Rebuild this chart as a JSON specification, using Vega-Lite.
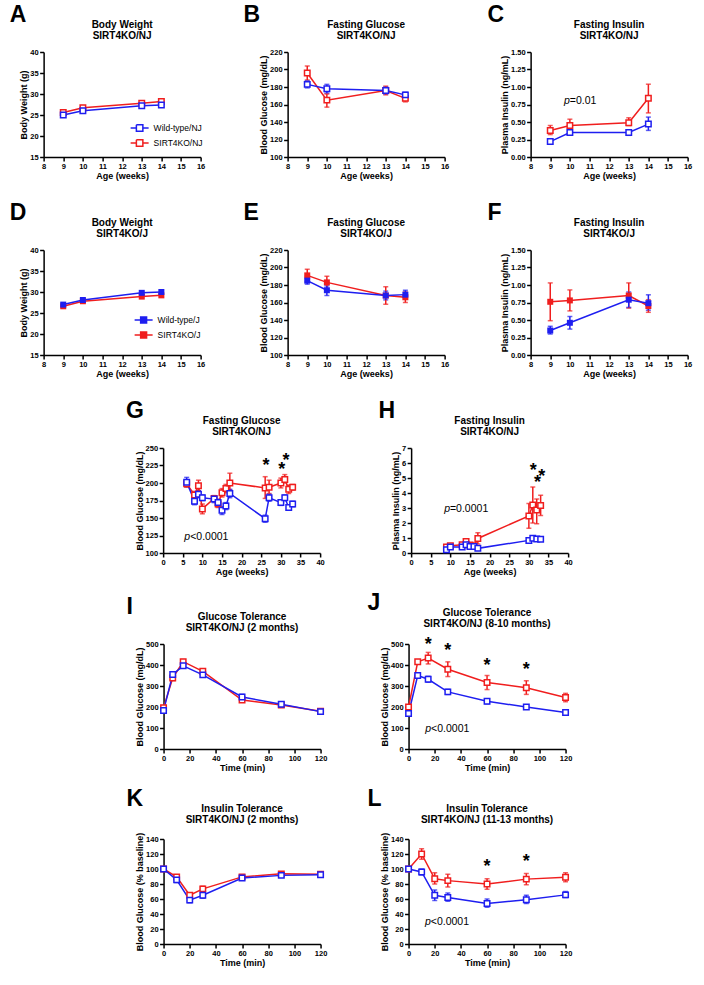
{
"$schema": "https://vega.github.io/schema/vega-lite/v6.json",
"padding": {"left": 9, "top": 4, "right": 5, "bottom": 5},
"config": {
  "font": "Liberation Sans",
  "view": {"stroke": null},
  "axis": {"labelFont": "Liberation Sans", "labelFontSize": 7.5, "labelFontWeight": "bold", "labelColor": "black", "titleFont": "Liberation Sans", "titleFontSize": 9, "titleFontWeight": "bold", "titleColor": "black", "domainColor": "black", "domainWidth": 1.5, "tickColor": "black", "tickWidth": 1.5, "tickSize": 4, "labelPadding": 1.5, "titlePadding": 1, "grid": false, "labelFlush": false, "labelOverlap": false},
  "title": {"font": "Liberation Sans", "fontSize": 10, "fontWeight": "bold", "color": "black", "lineHeight": 11, "offset": 7}
},
"datasets": {
  "A": [
    {"g":"KO","x":9,"y":25.6,"lo":25.3,"hi":25.9},{"g":"KO","x":10,"y":26.7,"lo":26.4,"hi":27.0},{"g":"KO","x":13,"y":27.8,"lo":27.5,"hi":28.1},{"g":"KO","x":14,"y":28.2,"lo":27.9,"hi":28.5},
    {"g":"WT","x":9,"y":25.0,"lo":24.7,"hi":25.3},{"g":"WT","x":10,"y":26.0,"lo":25.7,"hi":26.3},{"g":"WT","x":13,"y":27.2,"lo":26.9,"hi":27.5},{"g":"WT","x":14,"y":27.4,"lo":27.0,"hi":27.8}
  ],
  "B": [
    {"g":"KO","x":9,"y":196,"lo":188,"hi":204},{"g":"KO","x":10,"y":165,"lo":157,"hi":172},{"g":"KO","x":13,"y":176,"lo":171,"hi":181},{"g":"KO","x":14,"y":167,"lo":163,"hi":171},
    {"g":"WT","x":9,"y":183,"lo":179,"hi":187},{"g":"WT","x":10,"y":178,"lo":173,"hi":183},{"g":"WT","x":13,"y":176,"lo":172,"hi":180},{"g":"WT","x":14,"y":171,"lo":168,"hi":174}
  ],
  "C": [
    {"g":"KO","x":9,"y":0.38,"lo":0.32,"hi":0.45},{"g":"KO","x":10,"y":0.45,"lo":0.38,"hi":0.54},{"g":"KO","x":13,"y":0.49,"lo":0.45,"hi":0.56},{"g":"KO","x":14,"y":0.84,"lo":0.63,"hi":1.04},
    {"g":"WT","x":9,"y":0.22,"lo":0.19,"hi":0.26},{"g":"WT","x":10,"y":0.35,"lo":0.32,"hi":0.38},{"g":"WT","x":13,"y":0.35,"lo":0.31,"hi":0.38},{"g":"WT","x":14,"y":0.47,"lo":0.38,"hi":0.57}
  ],
  "D": [
    {"g":"KO","x":9,"y":26.6,"lo":26.3,"hi":26.9},{"g":"KO","x":10,"y":27.8,"lo":27.5,"hi":28.1},{"g":"KO","x":13,"y":28.9,"lo":28.6,"hi":29.2},{"g":"KO","x":14,"y":29.2,"lo":28.9,"hi":29.5},
    {"g":"WT","x":9,"y":27.0,"lo":26.6,"hi":27.4},{"g":"WT","x":10,"y":28.1,"lo":27.8,"hi":28.4},{"g":"WT","x":13,"y":29.8,"lo":29.5,"hi":30.1},{"g":"WT","x":14,"y":30.0,"lo":29.6,"hi":30.4}
  ],
  "E": [
    {"g":"KO","x":9,"y":191,"lo":184,"hi":198},{"g":"KO","x":10,"y":183,"lo":176,"hi":190},{"g":"KO","x":13,"y":168,"lo":158,"hi":178},{"g":"KO","x":14,"y":166,"lo":160,"hi":172},
    {"g":"WT","x":9,"y":185,"lo":181,"hi":190},{"g":"WT","x":10,"y":174,"lo":168,"hi":179},{"g":"WT","x":13,"y":168,"lo":163,"hi":173},{"g":"WT","x":14,"y":169,"lo":165,"hi":174}
  ],
  "F": [
    {"g":"KO","x":9,"y":0.76,"lo":0.49,"hi":1.03},{"g":"KO","x":10,"y":0.78,"lo":0.63,"hi":0.93},{"g":"KO","x":13,"y":0.85,"lo":0.67,"hi":1.03},{"g":"KO","x":14,"y":0.70,"lo":0.61,"hi":0.79},
    {"g":"WT","x":9,"y":0.35,"lo":0.30,"hi":0.41},{"g":"WT","x":10,"y":0.46,"lo":0.37,"hi":0.55},{"g":"WT","x":13,"y":0.79,"lo":0.68,"hi":0.90},{"g":"WT","x":14,"y":0.74,"lo":0.64,"hi":0.86}
  ],
  "G": [
    {"g":"KO","x":6,"y":199,"lo":194,"hi":204},{"g":"KO","x":8,"y":183,"lo":178,"hi":188},{"g":"KO","x":9,"y":196,"lo":189,"hi":204},{"g":"KO","x":10,"y":163,"lo":156,"hi":170},{"g":"KO","x":13,"y":178,"lo":174,"hi":182},{"g":"KO","x":14,"y":170,"lo":165,"hi":175},{"g":"KO","x":15,"y":186,"lo":180,"hi":192},{"g":"KO","x":16,"y":192,"lo":186,"hi":198},{"g":"KO","x":17,"y":200,"lo":190,"hi":214},{"g":"KO","x":26,"y":193,"lo":178,"hi":209},{"g":"KO","x":27,"y":194,"lo":185,"hi":204},{"g":"KO","x":30,"y":200,"lo":193,"hi":207},{"g":"KO","x":31,"y":205,"lo":200,"hi":212},{"g":"KO","x":32,"y":191,"lo":185,"hi":197},{"g":"KO","x":33,"y":194,"lo":190,"hi":198},
    {"g":"WT","x":6,"y":201,"lo":195,"hi":208},{"g":"WT","x":8,"y":174,"lo":169,"hi":179},{"g":"WT","x":9,"y":184,"lo":179,"hi":189},{"g":"WT","x":10,"y":179,"lo":175,"hi":183},{"g":"WT","x":13,"y":177,"lo":172,"hi":181},{"g":"WT","x":14,"y":172,"lo":167,"hi":177},{"g":"WT","x":15,"y":161,"lo":155,"hi":166},{"g":"WT","x":16,"y":167,"lo":162,"hi":172},{"g":"WT","x":17,"y":185,"lo":179,"hi":191},{"g":"WT","x":26,"y":149,"lo":144,"hi":154},{"g":"WT","x":27,"y":179,"lo":174,"hi":184},{"g":"WT","x":30,"y":172,"lo":168,"hi":176},{"g":"WT","x":31,"y":179,"lo":175,"hi":183},{"g":"WT","x":32,"y":165,"lo":161,"hi":169},{"g":"WT","x":33,"y":170,"lo":166,"hi":174}
  ],
  "H": [
    {"g":"KO","x":9,"y":0.40,"lo":0.33,"hi":0.47},{"g":"KO","x":10,"y":0.49,"lo":0.40,"hi":0.58},{"g":"KO","x":13,"y":0.55,"lo":0.45,"hi":0.65},{"g":"KO","x":14,"y":0.77,"lo":0.60,"hi":0.94},{"g":"KO","x":15,"y":0.53,"lo":0.43,"hi":0.63},{"g":"KO","x":16,"y":0.49,"lo":0.40,"hi":0.58},{"g":"KO","x":17,"y":0.97,"lo":0.60,"hi":1.35},{"g":"KO","x":30,"y":2.47,"lo":1.65,"hi":3.3},{"g":"KO","x":31,"y":3.2,"lo":2.0,"hi":4.4},{"g":"KO","x":32,"y":2.87,"lo":1.95,"hi":3.6},{"g":"KO","x":33,"y":3.16,"lo":2.5,"hi":3.85},
    {"g":"WT","x":9,"y":0.22,"lo":0.15,"hi":0.30},{"g":"WT","x":10,"y":0.40,"lo":0.33,"hi":0.47},{"g":"WT","x":13,"y":0.40,"lo":0.33,"hi":0.47},{"g":"WT","x":14,"y":0.55,"lo":0.45,"hi":0.65},{"g":"WT","x":15,"y":0.44,"lo":0.36,"hi":0.52},{"g":"WT","x":16,"y":0.44,"lo":0.36,"hi":0.52},{"g":"WT","x":17,"y":0.31,"lo":0.25,"hi":0.37},{"g":"WT","x":30,"y":0.84,"lo":0.75,"hi":0.93},{"g":"WT","x":31,"y":0.99,"lo":0.88,"hi":1.10},{"g":"WT","x":32,"y":0.93,"lo":0.83,"hi":1.03},{"g":"WT","x":33,"y":0.92,"lo":0.84,"hi":1.00}
  ],
  "I": [
    {"g":"KO","x":0,"y":197,"lo":190,"hi":204},{"g":"KO","x":7,"y":338,"lo":326,"hi":350},{"g":"KO","x":15,"y":416,"lo":406,"hi":426},{"g":"KO","x":30,"y":370,"lo":360,"hi":380},{"g":"KO","x":60,"y":233,"lo":223,"hi":243},{"g":"KO","x":90,"y":210,"lo":200,"hi":220},{"g":"KO","x":120,"y":180,"lo":175,"hi":185},
    {"g":"WT","x":0,"y":183,"lo":175,"hi":191},{"g":"WT","x":7,"y":355,"lo":343,"hi":367},{"g":"WT","x":15,"y":396,"lo":386,"hi":406},{"g":"WT","x":30,"y":353,"lo":345,"hi":361},{"g":"WT","x":60,"y":248,"lo":236,"hi":260},{"g":"WT","x":90,"y":213,"lo":203,"hi":223},{"g":"WT","x":120,"y":178,"lo":172,"hi":184}
  ],
  "J": [
    {"g":"KO","x":0,"y":200,"lo":192,"hi":208},{"g":"KO","x":7,"y":415,"lo":405,"hi":425},{"g":"KO","x":15,"y":433,"lo":405,"hi":460},{"g":"KO","x":30,"y":380,"lo":345,"hi":415},{"g":"KO","x":60,"y":317,"lo":283,"hi":350},{"g":"KO","x":90,"y":292,"lo":260,"hi":325},{"g":"KO","x":120,"y":245,"lo":225,"hi":265},
    {"g":"WT","x":0,"y":169,"lo":162,"hi":176},{"g":"WT","x":7,"y":350,"lo":343,"hi":357},{"g":"WT","x":15,"y":332,"lo":318,"hi":346},{"g":"WT","x":30,"y":272,"lo":260,"hi":284},{"g":"WT","x":60,"y":227,"lo":215,"hi":239},{"g":"WT","x":90,"y":200,"lo":192,"hi":208},{"g":"WT","x":120,"y":174,"lo":168,"hi":180}
  ],
  "K": [
    {"g":"KO","x":0,"y":100,"lo":99,"hi":101},{"g":"KO","x":10,"y":89.5,"lo":87,"hi":92},{"g":"KO","x":20,"y":65,"lo":62,"hi":68},{"g":"KO","x":30,"y":73.5,"lo":70,"hi":77},{"g":"KO","x":60,"y":89.5,"lo":87,"hi":92},{"g":"KO","x":90,"y":93.5,"lo":91,"hi":96},{"g":"KO","x":120,"y":93,"lo":91,"hi":95},
    {"g":"WT","x":0,"y":100,"lo":99,"hi":101},{"g":"WT","x":10,"y":85.5,"lo":82,"hi":89},{"g":"WT","x":20,"y":58.5,"lo":55,"hi":62},{"g":"WT","x":30,"y":65,"lo":61,"hi":69},{"g":"WT","x":60,"y":88,"lo":85,"hi":91},{"g":"WT","x":90,"y":91.5,"lo":89,"hi":94},{"g":"WT","x":120,"y":92.3,"lo":90,"hi":95}
  ],
  "L": [
    {"g":"KO","x":0,"y":100,"lo":99,"hi":101},{"g":"KO","x":10,"y":120,"lo":113,"hi":127},{"g":"KO","x":20,"y":87,"lo":80,"hi":95},{"g":"KO","x":30,"y":84.5,"lo":76,"hi":93},{"g":"KO","x":60,"y":80,"lo":73,"hi":87},{"g":"KO","x":90,"y":86.5,"lo":79,"hi":94},{"g":"KO","x":120,"y":89,"lo":83,"hi":95},
    {"g":"WT","x":0,"y":100,"lo":99,"hi":101},{"g":"WT","x":10,"y":96,"lo":92,"hi":100},{"g":"WT","x":20,"y":65,"lo":58,"hi":72},{"g":"WT","x":30,"y":62,"lo":57,"hi":68},{"g":"WT","x":60,"y":54,"lo":49,"hi":60},{"g":"WT","x":90,"y":59,"lo":54,"hi":65},{"g":"WT","x":120,"y":65.5,"lo":62,"hi":70}
  ]
},
"center": true,
"spacing": 15,
"vconcat": [
{"center": true, "spacing": 22, "vconcat": [
{"hconcat": [
 {"title": {"text": "A", "anchor": "start", "fontSize": 23, "dx": -10, "offset": -7},
  "resolve": {"scale": {"color": "independent"}, "legend": {"color": "independent"}},
  "vconcat": [{
   "data": {"name": "A"}, "width": 157, "height": 105,
   "title": {"text": ["Body Weight", "SIRT4KO/NJ"]},
   "encoding": {
     "x": {"field": "x", "type": "quantitative", "title": "Age (weeks)", "scale": {"domain": [8, 16], "nice": false}, "axis": {"values": [8,9,10,11,12,13,14,15,16]}},
     "y": {"field": "y", "type": "quantitative", "title": "Body Weight (g)", "scale": {"domain": [15, 40], "nice": false}, "axis": {"values": [15,20,25,30,35,40]}},
     "color": {"field": "g", "type": "nominal", "scale": {"domain": ["WT","KO"], "range": ["#1e1ef0","#f01e1e"]},
       "legend": {"orient": "bottom-right", "title": " ", "titleOrient": "bottom", "titleFontSize": 8, "titlePadding": 2, "labelExpr": "datum.value == 'WT' ? 'Wild-type/NJ' : 'SIRT4KO/NJ'", "symbolType": "M-1,0H-0.36M0.36,0H1M-0.36,-0.36H0.36V0.36H-0.36V-0.36V0.36H0.36V-0.36H-0.36", "symbolSize": 324, "symbolStrokeWidth": 1.5, "labelFontSize": 8.5, "labelFont": "Liberation Sans", "labelColor": "black", "offset": -2, "rowPadding": 3, "clipHeight": 12, "padding": 0,
         "encode": {"symbols": {"update": {"fill": {"value": "white"}, "opacity": {"value": 1}, "fillOpacity": {"value": 1}}}}}}
   },
   "layer": [
     {"mark": {"type": "errorbar", "ticks": true, "size": 5, "thickness": 1.5}, "encoding": {"y": {"field": "lo", "type": "quantitative", "title": "Body Weight (g)"}, "y2": {"field": "hi"}}},
     {"mark": {"type": "line", "strokeWidth": 1.5}},
     {"mark": {"type": "point", "shape": "square", "filled": false, "fill": "white", "size": 30, "strokeWidth": 1.5, "opacity": 1}}
   ]
  }]
 },
 {"title": {"text": "B", "anchor": "start", "fontSize": 23, "dx": -16, "offset": -7},
  "vconcat": [{
   "data": {"name": "B"}, "width": 157, "height": 105,
   "title": {"text": ["Fasting  Glucose", "SIRT4KO/NJ"]},
   "encoding": {
     "x": {"field": "x", "type": "quantitative", "title": "Age (weeks)", "scale": {"domain": [8, 16], "nice": false}, "axis": {"values": [8,9,10,11,12,13,14,15,16]}},
     "y": {"field": "y", "type": "quantitative", "title": "Blood Glucose (mg/dL)", "scale": {"domain": [100, 220], "nice": false}, "axis": {"values": [100,120,140,160,180,200,220]}},
     "color": {"field": "g", "type": "nominal", "scale": {"domain": ["WT","KO"], "range": ["#1e1ef0","#f01e1e"]}, "legend": null}
   },
   "layer": [
     {"mark": {"type": "errorbar", "ticks": true, "size": 5, "thickness": 1.5}, "encoding": {"y": {"field": "lo", "type": "quantitative", "title": "Blood Glucose (mg/dL)"}, "y2": {"field": "hi"}}},
     {"mark": {"type": "line", "strokeWidth": 1.5}},
     {"mark": {"type": "point", "shape": "square", "filled": false, "fill": "white", "size": 30, "strokeWidth": 1.5, "opacity": 1}}
   ]
  }]
 },
 {"title": {"text": "C", "anchor": "start", "fontSize": 23, "dx": -13, "offset": -7},
  "vconcat": [{
   "data": {"name": "C"}, "width": 157, "height": 105,
   "title": {"text": ["Fasting Insulin", "SIRT4KO/NJ"]},
   "encoding": {
     "x": {"field": "x", "type": "quantitative", "title": "Age (weeks)", "scale": {"domain": [8, 16], "nice": false}, "axis": {"values": [8,9,10,11,12,13,14,15,16]}},
     "y": {"field": "y", "type": "quantitative", "title": "Plasma Insulin (ng/mL)", "scale": {"domain": [0, 1.5], "nice": false}, "axis": {"values": [0,0.25,0.5,0.75,1,1.25,1.5], "format": ".2f"}},
     "color": {"field": "g", "type": "nominal", "scale": {"domain": ["WT","KO"], "range": ["#1e1ef0","#f01e1e"]}, "legend": null}
   },
   "layer": [
     {"mark": {"type": "errorbar", "ticks": true, "size": 5, "thickness": 1.5}, "encoding": {"y": {"field": "lo", "type": "quantitative", "title": "Plasma Insulin (ng/mL)"}, "y2": {"field": "hi"}}},
     {"mark": {"type": "line", "strokeWidth": 1.5}},
     {"mark": {"type": "point", "shape": "square", "filled": false, "fill": "white", "size": 30, "strokeWidth": 1.5, "opacity": 1}},
     {"data": {"values": [{"x": 10.0, "y": 0.8}]}, "mark": {"type": "text", "text": "p", "align": "right", "baseline": "middle", "fontStyle": "italic", "fontSize": 10.5}, "encoding": {"color": {"value": "black"}}},
     {"data": {"values": [{"x": 10.0, "y": 0.8}]}, "mark": {"type": "text", "text": "=0.01", "align": "left", "baseline": "middle", "fontSize": 10.5}, "encoding": {"color": {"value": "black"}}}
   ]
  }]
 }
], "spacing": 37},
{"hconcat": [
 {"title": {"text": "D", "anchor": "start", "fontSize": 23, "dx": -10, "offset": -7},
  "resolve": {"scale": {"color": "independent"}, "legend": {"color": "independent"}},
  "vconcat": [{
   "data": {"name": "D"}, "width": 157, "height": 105,
   "title": {"text": ["Body Weight", "SIRT4KO/J"]},
   "encoding": {
     "x": {"field": "x", "type": "quantitative", "title": "Age (weeks)", "scale": {"domain": [8, 16], "nice": false}, "axis": {"values": [8,9,10,11,12,13,14,15,16]}},
     "y": {"field": "y", "type": "quantitative", "title": "Body Weight (g)", "scale": {"domain": [15, 40], "nice": false}, "axis": {"values": [15,20,25,30,35,40]}},
     "color": {"field": "g", "type": "nominal", "scale": {"domain": ["WT","KO"], "range": ["#1e1ef0","#f01e1e"]},
       "legend": {"orient": "bottom-right", "title": " ", "titleOrient": "bottom", "titleFontSize": 8, "titlePadding": 6, "labelExpr": "datum.value == 'WT' ? 'Wild-type/J' : 'SIRT4KO/J'", "symbolType": "M-1,0H-0.33M0.33,0H1M-0.33,-0.33H0.33V0.33H-0.33Z", "symbolSize": 324, "symbolStrokeWidth": 1.5, "labelFontSize": 8.5, "labelFont": "Liberation Sans", "labelColor": "black", "offset": 0, "rowPadding": 3, "clipHeight": 12, "padding": 0,
         "encode": {"symbols": {"update": {"opacity": {"value": 1}, "fillOpacity": {"value": 1}}}}}}
   },
   "layer": [
     {"mark": {"type": "errorbar", "ticks": true, "size": 5, "thickness": 1.5}, "encoding": {"y": {"field": "lo", "type": "quantitative", "title": "Body Weight (g)"}, "y2": {"field": "hi"}}},
     {"mark": {"type": "line", "strokeWidth": 1.5}},
     {"mark": {"type": "point", "shape": "square", "filled": true, "size": 36, "opacity": 1}}
   ]
  }]
 },
 {"title": {"text": "E", "anchor": "start", "fontSize": 23, "dx": -16, "offset": -7},
  "vconcat": [{
   "data": {"name": "E"}, "width": 157, "height": 105,
   "title": {"text": ["Fasting Glucose", "SIRT4KO/J"]},
   "encoding": {
     "x": {"field": "x", "type": "quantitative", "title": "Age (weeks)", "scale": {"domain": [8, 16], "nice": false}, "axis": {"values": [8,9,10,11,12,13,14,15,16]}},
     "y": {"field": "y", "type": "quantitative", "title": "Blood Glucose (mg/dL)", "scale": {"domain": [100, 220], "nice": false}, "axis": {"values": [100,120,140,160,180,200,220]}},
     "color": {"field": "g", "type": "nominal", "scale": {"domain": ["WT","KO"], "range": ["#1e1ef0","#f01e1e"]}, "legend": null}
   },
   "layer": [
     {"mark": {"type": "errorbar", "ticks": true, "size": 5, "thickness": 1.5}, "encoding": {"y": {"field": "lo", "type": "quantitative", "title": "Blood Glucose (mg/dL)"}, "y2": {"field": "hi"}}},
     {"mark": {"type": "line", "strokeWidth": 1.5}},
     {"mark": {"type": "point", "shape": "square", "filled": true, "size": 36, "opacity": 1}}
   ]
  }]
 },
 {"title": {"text": "F", "anchor": "start", "fontSize": 23, "dx": -13, "offset": -7},
  "vconcat": [{
   "data": {"name": "F"}, "width": 157, "height": 105,
   "title": {"text": ["Fasting Insulin", "SIRT4KO/J"]},
   "encoding": {
     "x": {"field": "x", "type": "quantitative", "title": "Age (weeks)", "scale": {"domain": [8, 16], "nice": false}, "axis": {"values": [8,9,10,11,12,13,14,15,16]}},
     "y": {"field": "y", "type": "quantitative", "title": "Plasma Insulin (ng/mL)", "scale": {"domain": [0, 1.5], "nice": false}, "axis": {"values": [0,0.25,0.5,0.75,1,1.25,1.5], "format": ".2f"}},
     "color": {"field": "g", "type": "nominal", "scale": {"domain": ["WT","KO"], "range": ["#1e1ef0","#f01e1e"]}, "legend": null}
   },
   "layer": [
     {"mark": {"type": "errorbar", "ticks": true, "size": 5, "thickness": 1.5}, "encoding": {"y": {"field": "lo", "type": "quantitative", "title": "Plasma Insulin (ng/mL)"}, "y2": {"field": "hi"}}},
     {"mark": {"type": "line", "strokeWidth": 1.5}},
     {"mark": {"type": "point", "shape": "square", "filled": true, "size": 36, "opacity": 1}}
   ]
  }]
 }
], "spacing": 37},
{"hconcat": [
 {"title": {"text": "G", "anchor": "start", "fontSize": 23, "dx": -9, "offset": -7},
  "vconcat": [{
   "data": {"name": "G"}, "width": 157, "height": 105,
   "title": {"text": ["Fasting Glucose", "SIRT4KO/NJ"]},
   "encoding": {
     "x": {"field": "x", "type": "quantitative", "title": "Age (weeks)", "scale": {"domain": [0, 40], "nice": false}, "axis": {"values": [0,5,10,15,20,25,30,35,40]}},
     "y": {"field": "y", "type": "quantitative", "title": "Blood Glucose (mg/dL)", "scale": {"domain": [100, 250], "nice": false}, "axis": {"values": [100,125,150,175,200,225,250]}},
     "color": {"field": "g", "type": "nominal", "scale": {"domain": ["WT","KO"], "range": ["#1e1ef0","#f01e1e"]}, "legend": null}
   },
   "layer": [
     {"mark": {"type": "errorbar", "ticks": true, "size": 5, "thickness": 1.5}, "encoding": {"y": {"field": "lo", "type": "quantitative", "title": "Blood Glucose (mg/dL)"}, "y2": {"field": "hi"}}},
     {"mark": {"type": "line", "strokeWidth": 1.5}},
     {"mark": {"type": "point", "shape": "square", "filled": false, "fill": "white", "size": 30, "strokeWidth": 1.5, "opacity": 1}},
     {"data": {"values": [{"x": 6.9, "y": 123}]}, "mark": {"type": "text", "text": "p", "align": "right", "baseline": "middle", "fontStyle": "italic", "fontSize": 10.5}, "encoding": {"color": {"value": "black"}}},
     {"data": {"values": [{"x": 6.9, "y": 123}]}, "mark": {"type": "text", "text": "<0.0001", "align": "left", "baseline": "middle", "fontSize": 10.5}, "encoding": {"color": {"value": "black"}}},
     {"data": {"values": [{"x": 26.2, "y": 224}, {"x": 30.2, "y": 219}, {"x": 31.3, "y": 231}]}, "mark": {"type": "text", "text": "*", "align": "center", "baseline": "middle", "fontSize": 18, "fontWeight": "bold"}, "encoding": {"color": {"value": "black"}}}
   ]
  }]
 },
 {"title": {"text": "H", "anchor": "start", "fontSize": 23, "dx": -13, "offset": -7},
  "vconcat": [{
   "data": {"name": "H"}, "width": 157, "height": 105,
   "title": {"text": ["Fasting Insulin", "SIRT4KO/NJ"]},
   "encoding": {
     "x": {"field": "x", "type": "quantitative", "title": "Age (weeks)", "scale": {"domain": [0, 40], "nice": false}, "axis": {"values": [0,5,10,15,20,25,30,35,40]}},
     "y": {"field": "y", "type": "quantitative", "title": "Plasma Insulin (ng/mL)", "scale": {"domain": [0, 7], "nice": false}, "axis": {"values": [0,1,2,3,4,5,6,7]}},
     "color": {"field": "g", "type": "nominal", "scale": {"domain": ["WT","KO"], "range": ["#1e1ef0","#f01e1e"]}, "legend": null}
   },
   "layer": [
     {"mark": {"type": "errorbar", "ticks": true, "size": 5, "thickness": 1.5}, "encoding": {"y": {"field": "lo", "type": "quantitative", "title": "Plasma Insulin (ng/mL)"}, "y2": {"field": "hi"}}},
     {"mark": {"type": "line", "strokeWidth": 1.5}},
     {"mark": {"type": "point", "shape": "square", "filled": false, "fill": "white", "size": 30, "strokeWidth": 1.5, "opacity": 1}},
     {"data": {"values": [{"x": 9.9, "y": 2.94}]}, "mark": {"type": "text", "text": "p", "align": "right", "baseline": "middle", "fontStyle": "italic", "fontSize": 10.5}, "encoding": {"color": {"value": "black"}}},
     {"data": {"values": [{"x": 9.9, "y": 2.94}]}, "mark": {"type": "text", "text": "=0.0001", "align": "left", "baseline": "middle", "fontSize": 10.5}, "encoding": {"color": {"value": "black"}}},
     {"data": {"values": [{"x": 31.1, "y": 5.45}, {"x": 32.2, "y": 4.7}, {"x": 33.3, "y": 5.05}]}, "mark": {"type": "text", "text": "*", "align": "center", "baseline": "middle", "fontSize": 18, "fontWeight": "bold"}, "encoding": {"color": {"value": "black"}}}
   ]
  }]
 }
], "spacing": 53}
]},
{"center": true, "spacing": 16, "vconcat": [
{"hconcat": [
 {"title": {"text": "I", "anchor": "start", "fontSize": 23, "dx": -9, "offset": -7},
  "vconcat": [{
   "data": {"name": "I"}, "width": 157, "height": 105,
   "title": {"text": ["Glucose Tolerance", "SIRT4KO/NJ (2 months)"]},
   "encoding": {
     "x": {"field": "x", "type": "quantitative", "title": "Time (min)", "scale": {"domain": [0, 120], "nice": false}, "axis": {"values": [0,20,40,60,80,100,120]}},
     "y": {"field": "y", "type": "quantitative", "title": "Blood Glucose (mg/dL)", "scale": {"domain": [0, 500], "nice": false}, "axis": {"values": [0,100,200,300,400,500]}},
     "color": {"field": "g", "type": "nominal", "scale": {"domain": ["WT","KO"], "range": ["#1e1ef0","#f01e1e"]}, "legend": null}
   },
   "layer": [
     {"mark": {"type": "errorbar", "ticks": true, "size": 5, "thickness": 1.5}, "encoding": {"y": {"field": "lo", "type": "quantitative", "title": "Blood Glucose (mg/dL)"}, "y2": {"field": "hi"}}},
     {"mark": {"type": "line", "strokeWidth": 1.5}},
     {"mark": {"type": "point", "shape": "square", "filled": false, "fill": "white", "size": 30, "strokeWidth": 1.5, "opacity": 1}}
   ]
  }]
 },
 {"title": {"text": "J", "anchor": "start", "fontSize": 23, "dx": -13, "offset": -7},
  "vconcat": [{
   "data": {"name": "J"}, "width": 157, "height": 105,
   "title": {"text": ["Glucose Tolerance", "SIRT4KO/NJ (8-10 months)"]},
   "encoding": {
     "x": {"field": "x", "type": "quantitative", "title": "Time (min)", "scale": {"domain": [0, 120], "nice": false}, "axis": {"values": [0,20,40,60,80,100,120]}},
     "y": {"field": "y", "type": "quantitative", "title": "Blood Glucose (mg/dL)", "scale": {"domain": [0, 500], "nice": false}, "axis": {"values": [0,100,200,300,400,500]}},
     "color": {"field": "g", "type": "nominal", "scale": {"domain": ["WT","KO"], "range": ["#1e1ef0","#f01e1e"]}, "legend": null}
   },
   "layer": [
     {"mark": {"type": "errorbar", "ticks": true, "size": 5, "thickness": 1.5}, "encoding": {"y": {"field": "lo", "type": "quantitative", "title": "Blood Glucose (mg/dL)"}, "y2": {"field": "hi"}}},
     {"mark": {"type": "line", "strokeWidth": 1.5}},
     {"mark": {"type": "point", "shape": "square", "filled": false, "fill": "white", "size": 30, "strokeWidth": 1.5, "opacity": 1}},
     {"data": {"values": [{"x": 17.2, "y": 94}]}, "mark": {"type": "text", "text": "p", "align": "right", "baseline": "middle", "fontStyle": "italic", "fontSize": 10.5}, "encoding": {"color": {"value": "black"}}},
     {"data": {"values": [{"x": 17.2, "y": 94}]}, "mark": {"type": "text", "text": "<0.0001", "align": "left", "baseline": "middle", "fontSize": 10.5}, "encoding": {"color": {"value": "black"}}},
     {"data": {"values": [{"x": 15, "y": 496}, {"x": 30, "y": 465}, {"x": 60, "y": 396}, {"x": 90, "y": 374}]}, "mark": {"type": "text", "text": "*", "align": "center", "baseline": "middle", "fontSize": 18, "fontWeight": "bold"}, "encoding": {"color": {"value": "black"}}}
   ]
  }]
 }
], "spacing": 39},
{"hconcat": [
 {"title": {"text": "K", "anchor": "start", "fontSize": 23, "dx": -9, "offset": -7},
  "vconcat": [{
   "data": {"name": "K"}, "width": 157, "height": 105,
   "title": {"text": ["Insulin Tolerance", "SIRT4KO/NJ (2 months)"]},
   "encoding": {
     "x": {"field": "x", "type": "quantitative", "title": "Time (min)", "scale": {"domain": [0, 120], "nice": false}, "axis": {"values": [0,20,40,60,80,100,120]}},
     "y": {"field": "y", "type": "quantitative", "title": "Blood Glucose (% baseline)", "scale": {"domain": [0, 140], "nice": false}, "axis": {"values": [0,20,40,60,80,100,120,140]}},
     "color": {"field": "g", "type": "nominal", "scale": {"domain": ["WT","KO"], "range": ["#1e1ef0","#f01e1e"]}, "legend": null}
   },
   "layer": [
     {"mark": {"type": "errorbar", "ticks": true, "size": 5, "thickness": 1.5}, "encoding": {"y": {"field": "lo", "type": "quantitative", "title": "Blood Glucose (% baseline)"}, "y2": {"field": "hi"}}},
     {"mark": {"type": "line", "strokeWidth": 1.5}},
     {"mark": {"type": "point", "shape": "square", "filled": false, "fill": "white", "size": 30, "strokeWidth": 1.5, "opacity": 1}}
   ]
  }]
 },
 {"title": {"text": "L", "anchor": "start", "fontSize": 23, "dx": -13, "offset": -7},
  "vconcat": [{
   "data": {"name": "L"}, "width": 157, "height": 105,
   "title": {"text": ["Insulin Tolerance", "SIRT4KO/NJ (11-13 months)"]},
   "encoding": {
     "x": {"field": "x", "type": "quantitative", "title": "Time (min)", "scale": {"domain": [0, 120], "nice": false}, "axis": {"values": [0,20,40,60,80,100,120]}},
     "y": {"field": "y", "type": "quantitative", "title": "Blood Glucose (% baseline)", "scale": {"domain": [0, 140], "nice": false}, "axis": {"values": [0,20,40,60,80,100,120,140]}},
     "color": {"field": "g", "type": "nominal", "scale": {"domain": ["WT","KO"], "range": ["#1e1ef0","#f01e1e"]}, "legend": null}
   },
   "layer": [
     {"mark": {"type": "errorbar", "ticks": true, "size": 5, "thickness": 1.5}, "encoding": {"y": {"field": "lo", "type": "quantitative", "title": "Blood Glucose (% baseline)"}, "y2": {"field": "hi"}}},
     {"mark": {"type": "line", "strokeWidth": 1.5}},
     {"mark": {"type": "point", "shape": "square", "filled": false, "fill": "white", "size": 30, "strokeWidth": 1.5, "opacity": 1}},
     {"data": {"values": [{"x": 17, "y": 28.7}]}, "mark": {"type": "text", "text": "p", "align": "right", "baseline": "middle", "fontStyle": "italic", "fontSize": 10.5}, "encoding": {"color": {"value": "black"}}},
     {"data": {"values": [{"x": 17, "y": 28.7}]}, "mark": {"type": "text", "text": "<0.0001", "align": "left", "baseline": "middle", "fontSize": 10.5}, "encoding": {"color": {"value": "black"}}},
     {"data": {"values": [{"x": 60, "y": 103}, {"x": 90, "y": 110}]}, "mark": {"type": "text", "text": "*", "align": "center", "baseline": "middle", "fontSize": 18, "fontWeight": "bold"}, "encoding": {"color": {"value": "black"}}}
   ]
  }]
 }
], "spacing": 39}
]}
]
}
